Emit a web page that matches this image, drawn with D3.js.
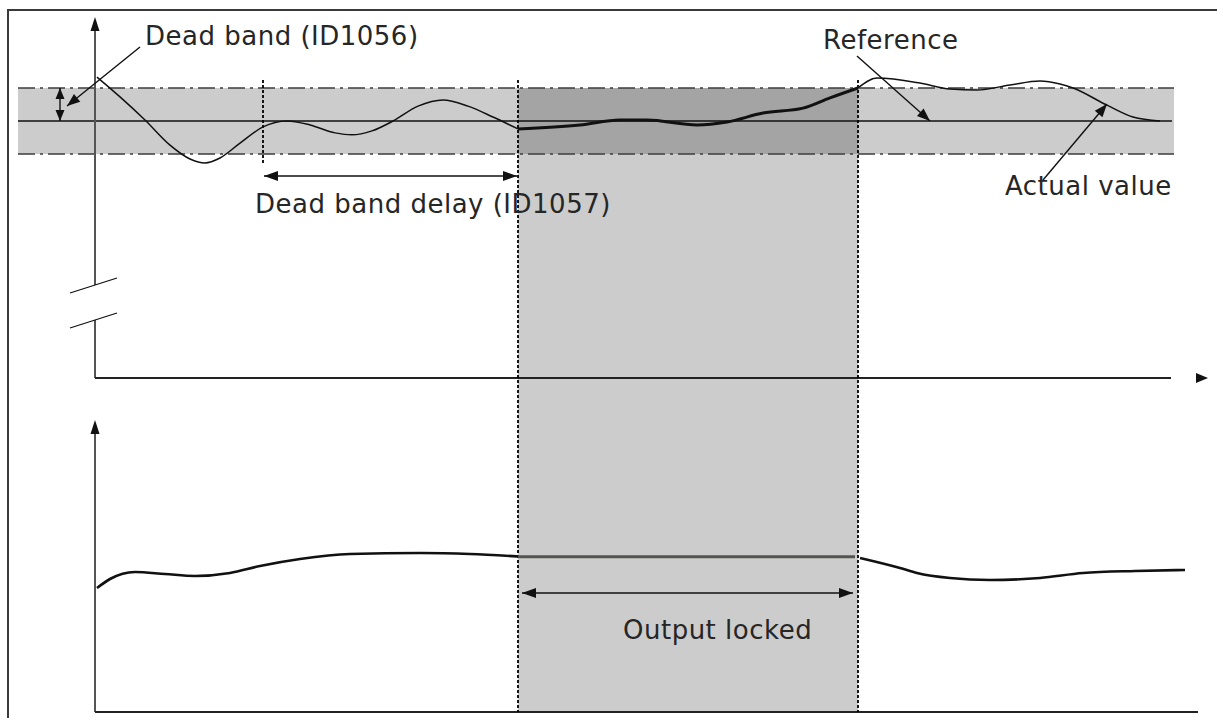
<!DOCTYPE html>
<html>
<head>
<meta charset="utf-8">
<script src="https://cdn.jsdelivr.net/npm/d3@7"></script>
<style>
  body { margin: 0; background: #fff; }
  text { font-family: "DejaVu Sans", Verdana, sans-serif; font-size: 26px; fill: #262626; letter-spacing: 0.5px; }
</style>
</head>
<body>
<svg id="chart" width="1217" height="718"></svg>
<script>
// ---- signal data (time in arbitrary units) ----
const deadBand = 1;                    // ± band around the reference (normalised error)
const delayStart = 16.8;               // error enters the dead band
const lockStart = 42.3, lockEnd = 76.3; // dead band delay expired -> output held
const bandSpan = [-7.7, 107.9];
const refSpan = [-7.7, 107.7];
const axisEnd = 107.6;

// actual value (error relative to reference) – top graph
const actualBefore = [
  [0.2, 1.33], [2.5, 0.73], [5.0, 0.03], [7.5, -0.73], [9.5, -1.15], [11.0, -1.27],
  [12.5, -1.12], [14.5, -0.67], [16.8, -0.18], [19.2, 0.0], [21.5, -0.12], [24.0, -0.36],
  [25.7, -0.42], [27.7, -0.30], [29.8, 0.0], [32.3, 0.45], [34.8, 0.64], [37.3, 0.45],
  [39.8, 0.12], [42.3, -0.24]
];
const actualLocked = [
  [42.3, -0.24], [48.5, -0.12], [52.5, 0.03], [55.2, 0.03], [60.2, -0.12], [63.2, -0.03],
  [66.8, 0.24], [70.8, 0.39], [73.5, 0.70], [76.3, 1.0]
];
const actualAfter = [
  [76.3, 1.0], [78.2, 1.30], [82.5, 1.15], [85.5, 0.97], [88.2, 0.94], [91.5, 1.09],
  [94.5, 1.21], [96.5, 1.12], [97.8, 1.0], [101.2, 0.48], [103.8, 0.12], [106.5, 0.0]
];

// controller output (%) – bottom graph
const outputBefore = [
  [0.2, 31.0], [1.5, 33.25], [4.0, 35.0], [7.0, 34.5], [10.0, 34.0], [13.5, 34.75],
  [16.5, 36.5], [20.5, 38.25], [25.5, 39.5], [32.5, 39.75], [37.5, 39.5], [42.2, 38.9]
];
const outputHeld = 38.8;
const outputAfter = [
  [76.5, 38.5], [80.5, 36.0], [82.2, 34.75], [85.5, 33.5], [89.5, 33.0], [94.5, 33.5],
  [98.8, 34.75], [104.0, 35.25], [109.0, 35.5]
];

const labels = {
  deadBand: "Dead band (ID1056)",
  delay: "Dead band delay (ID1057)",
  reference: "Reference",
  actual: "Actual value",
  locked: "Output locked"
};

// ---- scales ----
const x = d3.scaleLinear().domain([0, 100]).range([95, 1095]);
const yTop = d3.scaleLinear().domain([-1, 1]).range([154, 88]);
const yBot = d3.scaleLinear().domain([0, 100]).range([712, 312]);

const svg = d3.select("#chart");
const topAxisY = 378, botAxisY = 712, axisX = x(0);

function arrowHead(g, tx, ty, fx, fy, len = 12, hw = 4.5) {
  const a = Math.atan2(ty - fy, tx - fx);
  const bx = tx - len * Math.cos(a), by = ty - len * Math.sin(a);
  const px = -Math.sin(a) * hw, py = Math.cos(a) * hw;
  g.append("path")
    .attr("d", `M${tx},${ty}L${bx + px},${by + py}L${bx - px},${by - py}Z`)
    .attr("fill", "#111");
}
function arrowLine(g, x1, y1, x2, y2, both, len, hw) {
  g.append("line").attr("x1", x1).attr("y1", y1).attr("x2", x2).attr("y2", y2)
    .attr("stroke", "#111").attr("stroke-width", 1.4);
  arrowHead(g, x2, y2, x1, y1, len, hw);
  if (both) arrowHead(g, x1, y1, x2, y2, len, hw);
}

// ---- frame ----
svg.append("path").attr("d", "M8,718V10H1217").attr("fill", "none")
  .attr("stroke", "#3a3a3a").attr("stroke-width", 2);

// ---- dead band and locked interval shading ----
svg.append("rect")
  .attr("x", x(bandSpan[0])).attr("width", x(bandSpan[1]) - x(bandSpan[0]))
  .attr("y", yTop(deadBand)).attr("height", yTop(-deadBand) - yTop(deadBand))
  .attr("fill", "#cccccc");
svg.append("rect")
  .attr("x", x(lockStart)).attr("width", x(lockEnd) - x(lockStart))
  .attr("y", yTop(deadBand)).attr("height", yTop(-deadBand) - yTop(deadBand))
  .attr("fill", "#a4a4a4");
svg.append("rect")
  .attr("x", x(lockStart)).attr("width", x(lockEnd) - x(lockStart))
  .attr("y", yTop(-deadBand)).attr("height", botAxisY - yTop(-deadBand))
  .attr("fill", "#cccccc");

// band limits (dash-dot) and reference
[deadBand, -deadBand].forEach(v => {
  svg.append("line")
    .attr("x1", x(bandSpan[0])).attr("x2", x(bandSpan[1]))
    .attr("y1", yTop(v)).attr("y2", yTop(v))
    .attr("stroke", "#3c3c3c").attr("stroke-width", 1.5)
    .attr("stroke-dasharray", "17,5,3,5");
});
svg.append("line")
  .attr("x1", x(refSpan[0])).attr("x2", x(refSpan[1]))
  .attr("y1", yTop(0)).attr("y2", yTop(0))
  .attr("stroke", "#111").attr("stroke-width", 1.4);

// ---- axes ----
const axes = svg.append("g").attr("stroke-width", 2).attr("fill", "none");
axes.append("line").attr("x1", axisX).attr("x2", axisX).attr("y1", 26).attr("y2", 285).attr("stroke", "#555");
axes.append("line").attr("x1", axisX).attr("x2", axisX).attr("y1", 320).attr("y2", topAxisY).attr("stroke", "#555");
axes.append("line").attr("x1", axisX).attr("x2", x(axisEnd)).attr("y1", topAxisY).attr("y2", topAxisY).attr("stroke", "#222");
axes.append("line").attr("x1", axisX).attr("x2", axisX).attr("y1", 430).attr("y2", botAxisY).attr("stroke", "#555");
axes.append("line").attr("x1", axisX).attr("x2", 1198).attr("y1", botAxisY).attr("y2", botAxisY).attr("stroke", "#222");
arrowHead(svg, axisX, 17, axisX, 40, 14, 4.5);
arrowHead(svg, axisX, 420, axisX, 440, 14, 4.5);
arrowHead(svg, 1208, topAxisY, 1190, topAxisY, 12, 5);
// axis break marks
[[70, 293, 117, 278], [70, 328, 117, 313]].forEach(([a, b, c, d]) => {
  svg.append("line").attr("x1", a).attr("y1", b).attr("x2", c).attr("y2", d)
    .attr("stroke", "#111").attr("stroke-width", 1.3);
});

// ---- dotted markers ----
const dotted = (t, y1, y2) => svg.append("line")
  .attr("x1", x(t)).attr("x2", x(t)).attr("y1", y1).attr("y2", y2)
  .attr("stroke", "#000").attr("stroke-width", 1.8).attr("stroke-dasharray", "3,2");
dotted(delayStart, 80, 165);
dotted(lockStart, 80, botAxisY);
dotted(lockEnd, 80, botAxisY);

// ---- actual value ----
const lineTop = d3.line().x(d => x(d[0])).y(d => yTop(d[1])).curve(d3.curveMonotoneX);
svg.append("path").attr("d", lineTop(actualBefore)).attr("fill", "none")
  .attr("stroke", "#111").attr("stroke-width", 1.5);
svg.append("path").attr("d", lineTop(actualLocked)).attr("fill", "none")
  .attr("stroke", "#111").attr("stroke-width", 3);
svg.append("path").attr("d", lineTop(actualAfter)).attr("fill", "none")
  .attr("stroke", "#111").attr("stroke-width", 1.5);

// ---- controller output ----
const lineBot = d3.line().x(d => x(d[0])).y(d => yBot(d[1])).curve(d3.curveMonotoneX);
svg.append("path").attr("d", lineBot(outputBefore)).attr("fill", "none")
  .attr("stroke", "#111").attr("stroke-width", 2.6);
svg.append("line")
  .attr("x1", x(lockStart)).attr("x2", x(lockEnd) - 3)
  .attr("y1", yBot(outputHeld)).attr("y2", yBot(outputHeld))
  .attr("stroke", "#555550").attr("stroke-width", 3);
svg.append("path").attr("d", lineBot(outputAfter)).attr("fill", "none")
  .attr("stroke", "#111").attr("stroke-width", 2.6);

// ---- annotations ----
const ann = svg.append("g");
arrowLine(ann, 60, yTop(0), 60, yTop(deadBand), true, 11, 4.5);
arrowLine(ann, 140, 47, 67, 106, false, 13, 5);
arrowLine(ann, x(delayStart) + 1, 176, x(lockStart) - 1, 176, true, 14, 5);
arrowLine(ann, 857, 56, 930, 121, false, 13, 5);
arrowLine(ann, 1043, 180, 1107, 104, false, 13, 5);
arrowLine(ann, x(lockStart) + 4, 593, x(lockEnd) - 5, 593, true, 14, 5);

svg.append("text").attr("x", 145).attr("y", 45).text(labels.deadBand);
svg.append("text").attr("x", 255).attr("y", 213).text(labels.delay);
svg.append("text").attr("x", 823).attr("y", 49).text(labels.reference);
svg.append("text").attr("x", 1005).attr("y", 195).text(labels.actual);
svg.append("text").attr("x", 623).attr("y", 639).text(labels.locked);
</script>
</body>
</html>
